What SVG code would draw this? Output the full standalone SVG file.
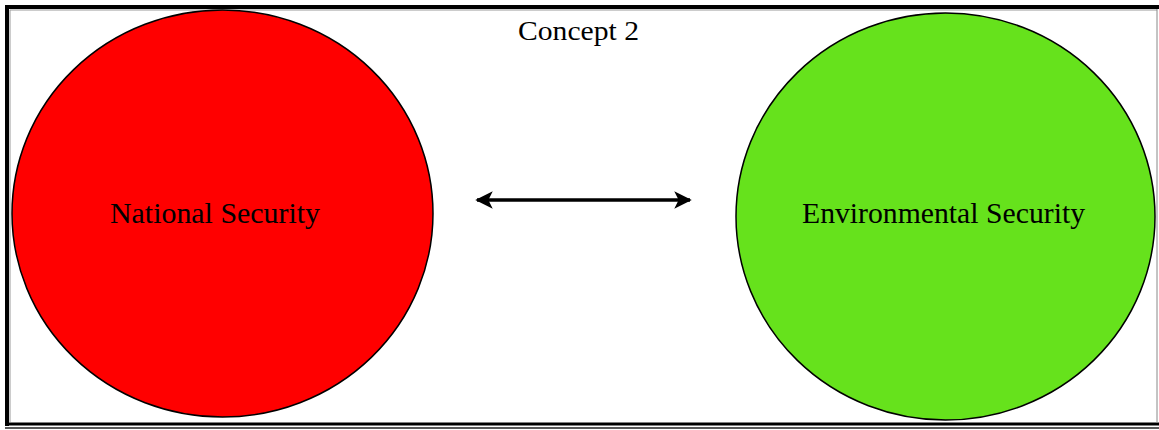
<svg xmlns="http://www.w3.org/2000/svg" width="1159" height="430" viewBox="0 0 1159 430">
  <defs>
    <style>
      .lbl { font-family: "Liberation Serif", "Times New Roman", serif; fill: #000; }
      .node { stroke: #000; stroke-width: 1.5; }
    </style>
    <marker id="ah" viewBox="0 0 10 10" refX="9" refY="5" markerWidth="5" markerHeight="5" orient="auto-start-reverse" markerUnits="strokeWidth">
      <path d="M0,0 L10,5 L0,10 L2.5,5 Z" fill="#000"/>
    </marker>
  </defs>
  <rect x="0" y="0" width="1159" height="430" fill="#fff"/>
  <g id="frame" fill="none">
    <line x1="5" y1="7" x2="1159" y2="7" stroke="#000" stroke-width="4"/>
    <line x1="7" y1="5" x2="7" y2="426" stroke="#000" stroke-width="4"/>
    <line x1="5" y1="424" x2="1159" y2="424" stroke="#000" stroke-width="3"/>
    <line x1="5" y1="428" x2="1159" y2="428" stroke="#222" stroke-width="1.5"/>
    <line x1="10" y1="10" x2="1157" y2="10" stroke="#999" stroke-width="1"/>
    <line x1="10" y1="10" x2="10" y2="422" stroke="#999" stroke-width="1"/>
    <line x1="1157" y1="9" x2="1157" y2="423" stroke="#888" stroke-width="1"/>
  </g>
  <text class="lbl" x="578.5" y="40" font-size="28" text-anchor="middle" textLength="121" lengthAdjust="spacingAndGlyphs">Concept 2</text>
  <g id="national-security">
    <ellipse class="node" cx="222.5" cy="213.5" rx="210.5" ry="203.5" fill="#FF0000"/>
    <text class="lbl" x="215" y="223" font-size="30" text-anchor="middle" textLength="210" lengthAdjust="spacingAndGlyphs">National Security</text>
  </g>
  <g id="environmental-security">
    <ellipse class="node" cx="945.5" cy="216.5" rx="209.5" ry="203.5" fill="#66E21C"/>
    <text class="lbl" x="943.5" y="223" font-size="30" text-anchor="middle" textLength="283" lengthAdjust="spacingAndGlyphs">Environmental Security</text>
  </g>
  <g id="connectors">
    <line x1="477" y1="200" x2="690" y2="200" stroke="#000" stroke-width="3.5" marker-start="url(#ah)" marker-end="url(#ah)"/>
  </g>
</svg>
